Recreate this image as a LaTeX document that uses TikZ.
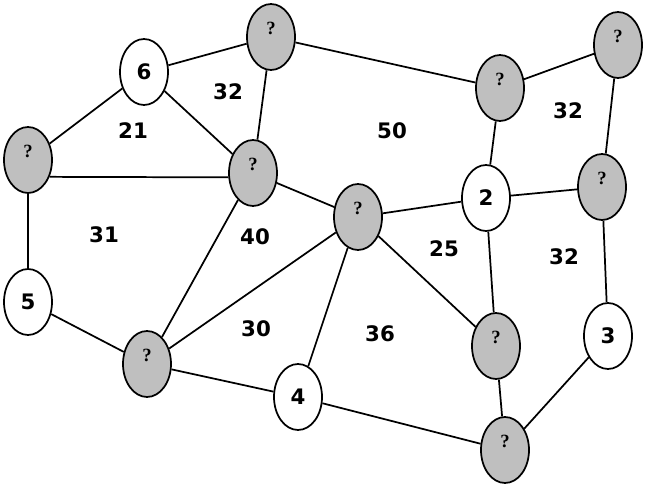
\documentclass[tikz,border=0pt]{standalone}
\usepackage{fontspec}
\setmainfont{DejaVu Sans}
\newfontfamily\qfont{Liberation Serif}
\usetikzlibrary{shapes.geometric}
\tikzset{
  vnode/.style={ellipse, draw=black, line width=1.3pt, minimum width=36pt, minimum height=49.5pt, inner sep=0pt},
  known/.style={vnode, fill=white, font=\bfseries\fontsize{16}{16}\selectfont},
  unknown/.style={vnode, fill=gray!50!white},
  edge/.style={draw=black, line width=1.3pt},
  qmark/.style={font=\qfont\bfseries\fontsize{14}{14}\selectfont, inner sep=0pt},
  wlabel/.style={font=\bfseries\fontsize{16}{16}\selectfont, inner sep=0pt}
}
\begin{document}
\begin{tikzpicture}[x=0.75pt, y=-0.75pt]
\useasboundingbox (0,0) rectangle (647,488);
% nodes
\node[known] (n6) at (144,72) {6};
\node[unknown] (gT) at (271,37) {};
\node[unknown] (gL) at (28,160) {};
\node[unknown] (g40) at (253,173) {};
\node[unknown] (gC) at (358,217) {};
\node[unknown] (gM) at (500,88) {};
\node[unknown] (gTR) at (618,45) {};
\node[known] (n2) at (486,198) {2};
\node[unknown] (gRR) at (602,187) {};
\node[known] (n5) at (28,302) {5};
\node[unknown] (gBL) at (147,364) {};
\node[known] (n4) at (298,397) {4};
\node[unknown] (gR) at (496,346) {};
\node[unknown] (gB) at (505,450) {};
\node[known] (n3) at (608,336) {3};
% question marks
\foreach \n in {gT,gL,g40,gC,gM,gTR,gRR,gBL,gR,gB}{
  \node[qmark] (q\n) at ([yshift=6.5pt]\n.center) {?};
}
% edges
\draw[edge] (n6) -- (gL);
\draw[edge] (n6) -- (gT);
\draw[edge] (n6) -- (g40);
\draw[edge] (gT) -- (g40);
\draw[edge] (gT) -- (gM);
\draw[edge] (gL.-38) -- (g40.190);
\draw[edge] (gL) -- (n5);
\draw[edge] (g40) -- (gC);
\draw[edge] (g40) -- (gBL);
\draw[edge] (n5) -- (gBL);
\draw[edge] (gBL) -- (gC);
\draw[edge] (gBL) -- (n4);
\draw[edge] (gC) -- (n4);
\draw[edge] (gC) -- (n2);
\draw[edge] (gC) -- (gR);
\draw[edge] (gM) -- (n2);
\draw[edge] (gM) -- (gTR);
\draw[edge] (gTR) -- (gRR);
\draw[edge] (n2) -- (gRR);
\draw[edge] (n2) -- (gR);
\draw[edge] (gRR) -- (n3);
\draw[edge] (gR) -- (gB);
\draw[edge] (n4) -- (gB);
\draw[edge] (n3) -- (gB);
% region labels
\node[wlabel] (l1) at (228,92) {32};
\node[wlabel] (l2) at (133,131) {21};
\node[wlabel] (l3) at (392,131) {50};
\node[wlabel] (l4) at (568,111) {32};
\node[wlabel] (l5) at (104,235) {31};
\node[wlabel] (l6) at (255,237) {40};
\node[wlabel] (l7) at (444,249) {25};
\node[wlabel] (l8) at (564,257) {32};
\node[wlabel] (l9) at (256,329) {30};
\node[wlabel] (l10) at (380,334) {36};
\end{tikzpicture}
\end{document}
